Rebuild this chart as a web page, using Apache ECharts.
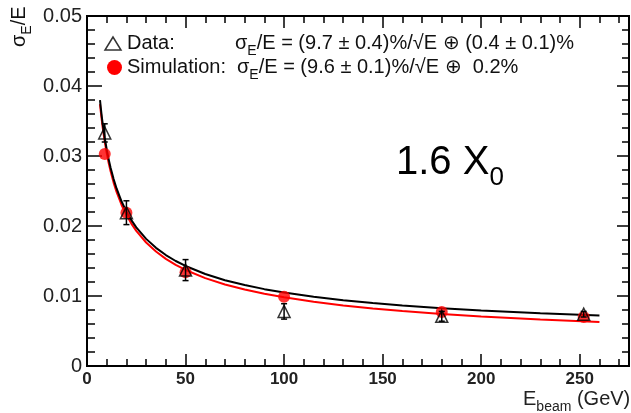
<!DOCTYPE html>
<html><head><meta charset="utf-8">
<script src="https://cdn.jsdelivr.net/npm/echarts@6/dist/echarts.min.js"></script>
<style>html,body{margin:0;padding:0;background:#fff}#c{width:631px;height:413px}</style>
</head><body><div id="c"></div>
<script>
// ---- data ----
const beamE      = [9, 20, 50, 100, 180, 252];
const dataRes    = [0.0333, 0.0219, 0.0137, 0.0078, 0.0071, 0.0074];
const dataErr    = [0.0013, 0.0017, 0.0015, 0.0011, 0.0007, 0.0004];
const simRes     = [0.0303, 0.0219, 0.0134, 0.0099, 0.0077, 0.0070];
const fitE       = [6.6, 7, 7.5, 8, 9, 10, 11, 12, 13.5, 15, 17.5, 20, 22.5, 25, 30, 35, 40, 45, 50, 60, 70, 80, 90, 100, 115, 130, 145, 160, 180, 200, 230, 260];
const dataFit    = [0.03797, 0.03688, 0.03564, 0.03453, 0.03258, 0.03093, 0.02952, 0.02829, 0.02670, 0.02536, 0.02353, 0.02206, 0.02084, 0.01981, 0.01816, 0.01688, 0.01585, 0.01500, 0.01429, 0.01315, 0.01226, 0.01156, 0.01098, 0.01049, 0.00989, 0.00940, 0.00899, 0.00865, 0.00826, 0.00794, 0.00754, 0.00722];
const simFit     = [0.03742, 0.03634, 0.03511, 0.03400, 0.03206, 0.03042, 0.02901, 0.02778, 0.02620, 0.02487, 0.02304, 0.02156, 0.02034, 0.01930, 0.01764, 0.01635, 0.01531, 0.01445, 0.01372, 0.01255, 0.01165, 0.01092, 0.01031, 0.00981, 0.00917, 0.00865, 0.00822, 0.00785, 0.00743, 0.00708, 0.00664, 0.00628];
const xMajor     = [0, 50, 100, 150, 200, 250];
const xMinor     = [10, 20, 30, 40, 60, 70, 80, 90, 110, 120, 130, 140, 160, 170, 180, 190, 210, 220, 230, 240, 260, 270];
const yMajor     = [0, 0.01, 0.02, 0.03, 0.04, 0.05];
const yMinor     = [0.002, 0.004, 0.006, 0.008, 0.012, 0.014, 0.016, 0.018, 0.022, 0.024, 0.026, 0.028, 0.032, 0.034, 0.036, 0.038, 0.042, 0.044, 0.046, 0.048];

const chart = echarts.init(document.getElementById('c'), null, {renderer: 'canvas'});
const FONT = 'Liberation Sans';
const lineStyleAx = {color: '#000', width: 2};

const mctx = document.createElement('canvas').getContext('2d');
function tw(text, size) { mctx.font = size + 'px "' + FONT + '"'; return mctx.measureText(text).width; }
// run of text pieces: [text, fontSize, dy]; y is the baseline of the main text
function run(x, y, pieces, color) {
  const out = [];
  let cx = x;
  pieces.forEach(p => {
    const s = p[1];
    out.push({type: 'text', x: cx, y: y + (p[2] || 0) - 0.36 * s,
      style: {text: p[0], fontFamily: FONT, fontSize: s, fill: color || '#111', verticalAlign: 'middle', align: 'left'}});
    cx += tw(p[0], s);
  });
  return out;
}

function xAx(pos, ticks, len, labels) {
  return {type: 'value', position: pos, min: 0, max: 275, gridIndex: 0,
    axisLine: {show: true, onZero: false, lineStyle: lineStyleAx},
    axisTick: {show: true, inside: true, length: len, customValues: ticks, lineStyle: {color: '#000', width: 1.5}},
    axisLabel: labels ? {show: true, customValues: xMajor, fontFamily: FONT, fontSize: 17, fontWeight: 'bold', color: '#222', margin: 5} : {show: false},
    splitLine: {show: false}};
}
function yAx(pos, ticks, len, labels) {
  return {type: 'value', position: pos, min: 0, max: 0.05, gridIndex: 0,
    axisLine: {show: true, onZero: false, lineStyle: lineStyleAx},
    axisTick: {show: true, inside: true, length: len, customValues: ticks, lineStyle: {color: '#000', width: 1.5}},
    axisLabel: labels ? {show: true, customValues: yMajor, fontFamily: FONT, fontSize: 20, color: '#222', margin: 5,
      formatter: v => v === 0 ? '0' : v.toFixed(2)} : {show: false},
    splitLine: {show: false}};
}

const graphics = [
  {type: 'polygon', shape: {points: [[113, 37], [105, 50], [121, 50]]}, style: {fill: 'none', stroke: '#333', lineWidth: 1.5}},
  {type: 'circle', shape: {cx: 114.5, cy: 67.5, r: 7.5}, style: {fill: '#ff0000'}},
  ...run(127, 51, [['Data:', 20]]),
  ...run(127, 75, [['Simulation:', 20]]),
  ...run(235, 51, [['σ', 20], ['E', 14, 5], ['/E = (9.7 ± 0.4)%/√E ⊕ (0.4 ± 0.1)%', 20]]),
  ...run(237, 75, [['σ', 20], ['E', 14, 5], ['/E = (9.6 ± 0.1)%/√E ⊕  0.2%', 20]]),
  ...run(396, 177, [['1.6 X', 40], ['0', 26, 10]], '#000'),
  ...run(523, 407, [['E', 20], ['beam', 14, 5], [' (GeV)', 20]], '#222'),
  {type: 'group', x: 27, y: 47, rotation: Math.PI / 2, children: run(0, 0, [['σ', 20], ['E', 14, 5], ['/E', 20]])}
];

chart.setOption({
  animation: false,
  grid: {left: 87, right: 2, top: 16, bottom: 47, show: false},
  xAxis: [xAx('bottom', xMajor, 12, true), xAx('bottom', xMinor, 7, false), xAx('top', xMajor, 12, false), xAx('top', xMinor, 7, false)],
  yAxis: [yAx('left', yMajor, 15, true), yAx('left', yMinor, 8, false), yAx('right', yMajor, 12, false), yAx('right', yMinor, 7, false)],
  series: [
    {type: 'line', data: fitE.map((e, i) => [e, simFit[i]]), showSymbol: false, smooth: false,
      lineStyle: {color: '#ff0000', width: 2}, z: 2},
    {type: 'line', data: fitE.map((e, i) => [e, dataFit[i]]), showSymbol: false, smooth: false,
      lineStyle: {color: '#000', width: 2}, z: 3},
    {type: 'scatter', data: beamE.map((e, i) => [e, simRes[i]]), symbol: 'circle', symbolSize: 12,
      itemStyle: {color: '#ff0000'}, z: 4},
    {type: 'custom', data: beamE.map((e, i) => [e, dataRes[i], dataErr[i]]), z: 5,
      renderItem: (params, api) => {
        const x = api.value(0), y = api.value(1), e = api.value(2);
        const t = api.coord([x, y + e]), b = api.coord([x, y - e]);
        const hw = 3, st = {stroke: '#000', lineWidth: 1.5};
        return {type: 'group', children: [
          {type: 'line', shape: {x1: t[0], y1: t[1], x2: b[0], y2: b[1]}, style: st},
          {type: 'line', shape: {x1: t[0] - hw, y1: t[1], x2: t[0] + hw, y2: t[1]}, style: st},
          {type: 'line', shape: {x1: b[0] - hw, y1: b[1], x2: b[0] + hw, y2: b[1]}, style: st}
        ]};
      }},
    {type: 'scatter', data: beamE.map((e, i) => [e, dataRes[i]]), symbol: 'triangle', symbolSize: [12, 12],
      itemStyle: {color: 'rgba(0,0,0,0)', borderColor: '#000', borderWidth: 1.5}, z: 6}
  ],
  graphic: graphics
});
</script></body></html>
